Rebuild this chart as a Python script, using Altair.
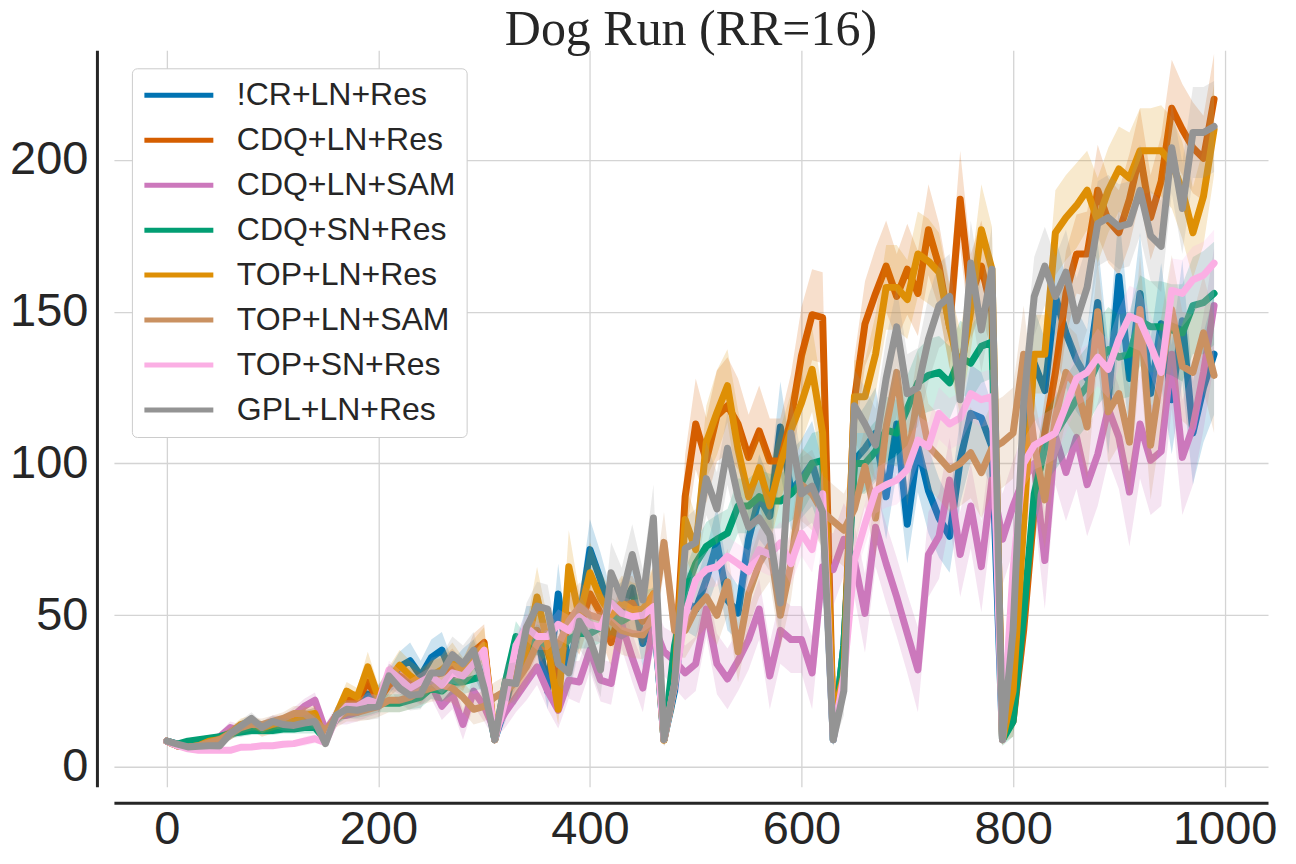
import altair as alt
import pandas as pd

# evaluation steps (x axis)
steps = list(range(0, 1000, 10))

names = ["!CR+LN+Res", "CDQ+LN+Res", "CDQ+LN+SAM", "CDQ+SN+Res",
         "TOP+LN+Res", "TOP+LN+SAM", "TOP+SN+Res", "GPL+LN+Res"]
colors = ["#0173B2", "#D55E00", "#CC78BC", "#029E73",
          "#DE8F05", "#CA9161", "#FBAFE4", "#949494"]

blue = [
    8.5, 7.5, 7, 7.5, 8, 8.5, 11, 13, 14, 13,
    14, 14, 15, 16, 17, 9, 17, 20, 21, 24,
    23, 28, 33, 35, 30, 36, 38.5, 30, 33, 36,
    28, 9, 20, 35, 45, 45, 25, 57, 32, 48,
    71.6, 61.7, 50, 52, 59, 40.7, 52, 9, 25, 55,
    51.8, 61.7, 73.8, 55, 50.7, 75, 89, 82.6, 112, 91,
    95, 100, 88, 9, 40, 101, 105, 110, 89, 113,
    80, 105.5, 91, 82, 76, 101, 116.5, 115, 105.5, 9,
    40, 100, 133, 124, 155, 143, 134, 128, 153, 121,
    161.6, 128, 156, 123, 146, 121, 147, 110, 125, 136]

red = [
    8.5, 7, 6.5, 7, 8, 9, 11, 13, 14, 12,
    13, 14, 14, 16, 17, 9, 16, 22, 22, 28,
    22, 27, 30, 28, 26, 30, 31, 33, 30, 38,
    41, 9, 25, 32, 36, 45, 38, 28, 50, 45,
    57, 50.7, 41, 53, 54, 48, 57, 9, 30, 89,
    113, 101, 115.6, 119, 113, 102, 110.7, 100.8, 100.8, 114.5,
    135.5, 149, 148, 12, 35, 121, 146, 156, 165, 155,
    164, 156, 177, 165, 145, 187, 155, 165, 150, 10,
    15, 45, 85, 110, 130, 156, 169, 169, 190, 180,
    176, 187, 202, 181, 193, 217, 210, 204, 200.5, 220]

purple = [
    8.5, 7, 6.5, 7, 8, 10, 13, 12, 14, 13,
    15, 15, 17, 20, 22, 12, 17, 17, 18, 20,
    21, 30, 28, 26, 25, 27, 20, 24, 14, 25,
    20, 12, 18, 23, 28, 33, 25, 18.7, 28.6, 28,
    38.5, 28.6, 27.5, 47, 36, 26, 47, 38, 35, 31,
    34, 52, 34, 29, 35, 42, 52, 30, 45, 42,
    42, 31, 66, 65, 75, 68, 50.6, 79, 67, 56,
    44, 32, 70, 76, 94.5, 70, 86, 66, 94.5, 75,
    86, 95, 100, 68, 109, 97, 108.6, 93, 103, 118,
    108.6, 90.6, 113, 101, 104, 136, 102, 112, 130, 152]

green = [
    8.5, 7.5, 8.5, 9, 9.5, 10, 11, 11.5, 12, 12,
    12, 12.5, 12.5, 13, 13, 9, 16, 18.7, 18.7, 20,
    21, 21, 21, 22, 23, 26, 25, 28, 28, 29,
    30, 9, 28, 43, 38, 42, 40, 38, 42, 44,
    44, 46, 49.6, 48, 50, 52, 53, 9, 40, 58,
    67, 72.7, 75, 77, 86, 86, 89, 87.6, 87.6, 90,
    93.6, 100, 101, 9, 40, 100, 100, 104, 111, 110,
    118, 126.6, 129, 130, 126.6, 135, 133, 138.6, 140, 9,
    15, 50, 90, 105, 110, 115.6, 121, 125.5, 133, 137.5,
    135, 136, 147, 145, 145, 144, 143, 152, 153, 156]

orange = [
    8.5, 7, 6.5, 7, 8.5, 9, 11, 14, 15, 13,
    14, 15, 15, 17, 17.6, 9, 17, 25, 23, 33,
    23, 29, 33.5, 30, 27.5, 30, 32, 35, 31, 36,
    40, 9, 24, 30, 38.5, 56, 40.7, 19, 66, 49.5,
    64, 55.6, 50, 54, 51.8, 52, 57, 8.8, 27, 81.5,
    71.6, 107, 116.7, 125.6, 104.6, 89, 98.6, 86, 99.7, 111,
    120, 131, 110, 16.5, 30, 122, 122, 136, 158, 158,
    154, 169, 166.6, 163, 145, 130, 150, 177, 164, 9,
    25, 80, 136, 136, 176, 181, 185, 190, 180, 190,
    197, 194, 203, 203, 203, 199, 190, 176, 188, 210]

brown = [
    8.5, 7, 6.5, 7, 8, 9, 11, 13, 14, 14,
    15, 16, 17.6, 17.6, 15, 12, 16, 18, 18, 19,
    20, 22, 22, 23, 25, 26, 27, 26, 23, 19,
    20, 23, 25, 28, 33, 40.7, 44, 40, 48, 52.8,
    50, 49, 48, 45, 44, 43.5, 50, 74, 45, 45,
    52, 56, 50, 61, 38, 57, 67, 73, 50, 67,
    93, 90, 84, 81, 78, 85, 99, 82, 112, 130,
    100, 123, 105.7, 102, 98, 100, 103.5, 97, 105, 107,
    110, 136, 106, 88, 115, 130, 125.5, 112, 150, 117,
    123, 107, 150.7, 106, 130, 150.7, 132, 130, 143, 129]

pink = [
    8.5, 7, 6, 5.5, 5.5, 5.5, 5.5, 6.5, 6.6, 7,
    7, 7.5, 7.7, 8.5, 9.3, 8, 16, 20, 20, 22,
    21, 32, 29, 26, 28, 30, 27, 31, 30, 34,
    38.5, 9, 22, 40, 46, 43, 43, 47, 45, 49.5,
    47, 46, 54, 50.7, 49.5, 50, 52.8, 9, 27, 50,
    61.7, 65, 66, 69.4, 67, 64.4, 71.6, 70, 73.8, 67,
    77, 71.6, 90, 9, 30, 68, 80, 91, 93, 94.5,
    98, 107.7, 105.5, 116.5, 113, 115, 123, 121, 122, 9,
    65, 100, 106, 108, 110, 119, 128, 130, 135, 131,
    141, 148.5, 147, 139, 130, 157, 156, 160.5, 162, 166]

gray = [
    8.5, 7.5, 6.6, 6.8, 7, 7, 11, 13.5, 16, 13,
    15, 14, 13.7, 14.5, 15, 7.7, 17, 19, 18.7, 19.5,
    20, 30, 26, 23.6, 24, 31, 31, 37, 34, 38.5,
    26, 9, 28, 27.5, 46, 53, 52, 34, 31, 48,
    42, 32, 64, 55.6, 70, 55, 82, 9, 27.5, 72,
    74, 95, 85, 105, 89, 79, 82, 76.5, 54, 110,
    90, 92.5, 84, 9, 25, 119, 113, 106, 128, 145,
    123, 125, 141, 152, 155, 121, 166, 144, 164, 9,
    45, 120, 155, 165, 155, 163, 147, 158, 179, 181,
    178, 179, 190, 175, 171.5, 204, 184, 209, 209, 211]

# half-width of the shaded confidence band
blue_sd = [
    1, 1, 1, 1, 1, 1.5, 2, 2, 2, 2,
    2, 2, 2, 2.5, 2.5, 1, 3, 3, 3, 4,
    4, 4, 5, 6, 5, 6, 6, 5, 6, 6,
    5, 1.5, 5, 6, 8, 8, 6, 10, 7, 8,
    10, 9, 8, 9, 7, 8, 8, 2, 6, 10,
    9, 10, 12, 10, 9, 12, 14, 12, 15, 13,
    13, 14, 12, 2, 8, 13, 14, 15, 14, 16,
    13, 15, 14, 13, 12, 14, 16, 15, 14, 2,
    8, 15, 18, 17, 20, 18, 17, 16, 20, 18,
    22, 18, 20, 18, 20, 18, 20, 17, 18, 20]
red_sd = [
    1, 1, 1, 1, 1, 1.5, 2, 2, 2, 2,
    2, 2, 2, 2.5, 2.5, 1, 3, 3, 3, 4,
    4, 4, 4, 5, 5, 5, 5, 6, 5, 6,
    6, 1.5, 5, 6, 7, 8, 7, 6, 8, 8,
    9, 8, 8, 9, 9, 8, 9, 2, 8, 14,
    15, 14, 15, 16, 15, 14, 15, 14, 14, 15,
    16, 15, 15, 3, 10, 14, 14, 15, 15, 14,
    15, 14, 15, 14, 14, 16, 14, 15, 14, 2,
    5, 10, 12, 12, 14, 14, 13, 14, 15, 14,
    14, 15, 15, 14, 15, 16, 15, 15, 14, 15]
purple_sd = [
    1, 1, 1, 1, 1, 1.5, 2, 2, 2, 2,
    2, 2, 2.5, 2.5, 2.5, 2, 3, 3, 3, 3.5,
    3.5, 4, 4, 4, 4.5, 4.5, 4.5, 5, 5, 5,
    5, 3, 5, 5, 6, 6, 6, 6, 6, 7,
    7, 7, 7, 8, 8, 8, 8, 8, 9, 9,
    9, 9, 10, 10, 10, 10, 10, 11, 11, 11,
    11, 12, 12, 12, 12, 12, 13, 13, 13, 13,
    13, 14, 14, 14, 14, 14, 14, 15, 15, 15,
    15, 15, 16, 16, 16, 16, 17, 17, 17, 17,
    17, 18, 18, 18, 18, 18, 19, 19, 19, 19]
green_sd = [
    1, 1, 1, 1, 1, 1, 1.5, 1.5, 1.5, 1.5,
    1.5, 1.5, 1.5, 2, 2, 1, 2, 2.5, 2.5, 3,
    3, 3, 3, 3, 3.5, 3.5, 3.5, 4, 4, 4,
    4, 1.5, 4, 5, 5, 5, 5, 5, 5, 5,
    5, 5, 6, 6, 6, 6, 6, 2, 6, 7,
    7, 8, 8, 8, 9, 9, 9, 9, 9, 9,
    10, 10, 10, 2, 7, 10, 10, 10, 11, 11,
    11, 11, 12, 12, 12, 12, 12, 12, 12, 2,
    5, 10, 12, 12, 12, 13, 13, 13, 14, 14,
    14, 14, 15, 15, 15, 15, 16, 16, 17, 17]
orange_sd = [
    1, 1, 1, 1, 1, 1.5, 2, 2, 2, 2,
    2, 2, 2, 2.5, 2.5, 1, 3, 3, 3, 5,
    4, 4, 5, 5, 5, 5, 5, 6, 5, 6,
    6, 1.5, 5, 6, 8, 10, 8, 5, 12, 8,
    10, 9, 8, 9, 9, 8, 9, 2, 8, 12,
    11, 12, 14, 12, 13, 12, 12, 13, 12, 12,
    13, 14, 13, 3, 9, 12, 12, 13, 14, 14,
    13, 14, 14, 13, 13, 14, 13, 15, 14, 2,
    6, 12, 13, 13, 14, 14, 14, 13, 14, 14,
    14, 15, 14, 14, 15, 15, 16, 15, 16, 15]
brown_sd = [
    1, 1, 1, 1, 1, 1.5, 2, 2, 2, 2,
    2, 2, 2.5, 2.5, 2.5, 2, 3, 3, 3, 3.5,
    3.5, 4, 4, 4, 4.5, 4.5, 5, 5, 5, 5,
    5, 5, 5, 6, 6, 7, 7, 7, 8, 8,
    8, 8, 8, 8, 8, 8, 9, 10, 9, 9,
    10, 10, 10, 11, 10, 11, 11, 12, 11, 12,
    12, 12, 12, 12, 12, 13, 13, 13, 14, 14,
    14, 14, 14, 14, 14, 14, 15, 15, 15, 15,
    15, 16, 16, 16, 16, 16, 17, 17, 17, 17,
    17, 18, 18, 18, 18, 18, 18, 19, 19, 19]
pink_sd = [
    1, 1, 1, 1, 1, 1, 1, 1, 1, 1,
    1, 1, 1, 1.5, 1.5, 1, 2, 2, 2, 2.5,
    2.5, 3, 3, 3, 3, 3, 3, 3.5, 3.5, 4,
    4, 1.5, 4, 4, 4.5, 4.5, 4.5, 5, 5, 5,
    5, 5, 5.5, 5.5, 5.5, 5.5, 6, 2, 5, 6,
    6, 6, 6.5, 6.5, 6.5, 7, 7, 7, 7, 7,
    7.5, 7.5, 8, 2, 6, 7, 7, 7.5, 7.5, 8,
    8, 8, 8, 8.5, 8.5, 8.5, 9, 9, 9, 2,
    6, 8, 8, 8.5, 8.5, 9, 9, 9, 9.5, 9.5,
    10, 10, 10, 10, 10.5, 10.5, 11, 11, 11, 11]
gray_sd = [
    1, 1, 1, 1, 1, 1.5, 2, 2, 2, 2,
    2, 2, 2, 2.5, 2.5, 1, 3, 3, 3, 4,
    4, 4, 5, 5, 5, 5, 6, 6, 6, 6,
    6, 1.5, 6, 7, 8, 8, 8, 7, 8, 9,
    9, 9, 10, 10, 10, 10, 11, 2, 7, 10,
    11, 12, 12, 12, 12, 12, 12, 12, 12, 12,
    12, 12, 12, 2, 8, 12, 12, 12, 13, 13,
    13, 13, 14, 14, 14, 14, 14, 14, 14, 2,
    8, 12, 13, 13, 13, 14, 14, 14, 14, 14,
    14, 14, 15, 15, 15, 15, 15, 15, 15, 15]

series = [blue, red, purple, green, orange, brown, pink, gray]
spreads = [blue_sd, red_sd, purple_sd, green_sd, orange_sd, brown_sd, pink_sd, gray_sd]
for s, d in zip(series, spreads):
    assert len(s) == len(steps) and len(d) == len(steps)

rows = []
for name, vals, sds in zip(names, series, spreads):
    for st, v, d in zip(steps, vals, sds):
        rows.append({"step": st, "value": v, "lo": v - d, "hi": v + d, "method": name})
df = pd.DataFrame(rows)

FONT = "Liberation Sans, Arial, sans-serif"
xscale = alt.Scale(domain=[-50, 1041], nice=False, zero=False)
yscale = alt.Scale(domain=[-6.5, 236.1], nice=False, zero=False)
xaxis = alt.Axis(values=[0, 200, 400, 600, 800, 1000], title=None, format="d",
                 labelFontSize=47, labelFont=FONT, labelColor="#262626",
                 domainColor="#262626", domainWidth=3, ticks=False, tickSize=0,
                 labelPadding=4, offset=16, gridColor="#d4d4d4", gridWidth=1.3,
                 labelFlush=False)
yaxis = alt.Axis(values=[0, 50, 100, 150, 200], title=None, format="d",
                 labelFontSize=47, labelFont=FONT, labelColor="#262626",
                 domainColor="#262626", domainWidth=3, ticks=False, tickSize=0,
                 labelPadding=9, offset=17, gridColor="#d4d4d4", gridWidth=1.3,
                 labelFlush=False)

stroke_scale = alt.Scale(domain=names, range=colors)
legend = alt.Legend(title=None, orient="top-left", offset=18,
                    symbolType="M-3,0H3", symbolSize=529, symbolStrokeWidth=5,
                    symbolOffset=20, labelOffset=42,
                    labelFontSize=32, labelFont=FONT, labelColor="#262626",
                    fillColor="#ffffff", strokeColor="#cccccc",
                    cornerRadius=5, padding=11, rowPadding=13, labelLimit=400)

base = alt.Chart(df)
layers = []
for name, col in zip(names, colors):
    sub = base.transform_filter(alt.datum.method == name)
    band = sub.mark_area(fill=col, opacity=0.2, clip=True).encode(
        x=alt.X("step:Q", scale=xscale, axis=xaxis),
        y=alt.Y("lo:Q", scale=yscale, axis=yaxis),
        y2="hi:Q")
    line = sub.mark_line(strokeWidth=7, strokeJoin="round", strokeCap="round",
                         clip=True).encode(
        x=alt.X("step:Q", scale=xscale, axis=xaxis),
        y=alt.Y("value:Q", scale=yscale, axis=yaxis),
        stroke=alt.Stroke("method:N", scale=stroke_scale, legend=legend))
    layers += [band, line]

chart = alt.layer(*layers).properties(
    width=1155, height=737,
    autosize="none",
    padding={"left": 106, "top": 42, "right": 20, "bottom": 70},
    title=alt.TitleParams("Dog Run (RR=16)", font="Liberation Serif", fontSize=50,
                          fontWeight="normal", color="#262626", anchor="middle",
                          baseline="alphabetic", offset=-45),
).configure_view(strokeWidth=0)

chart.save("out.html", embed_options={"renderer": "svg", "actions": False})
